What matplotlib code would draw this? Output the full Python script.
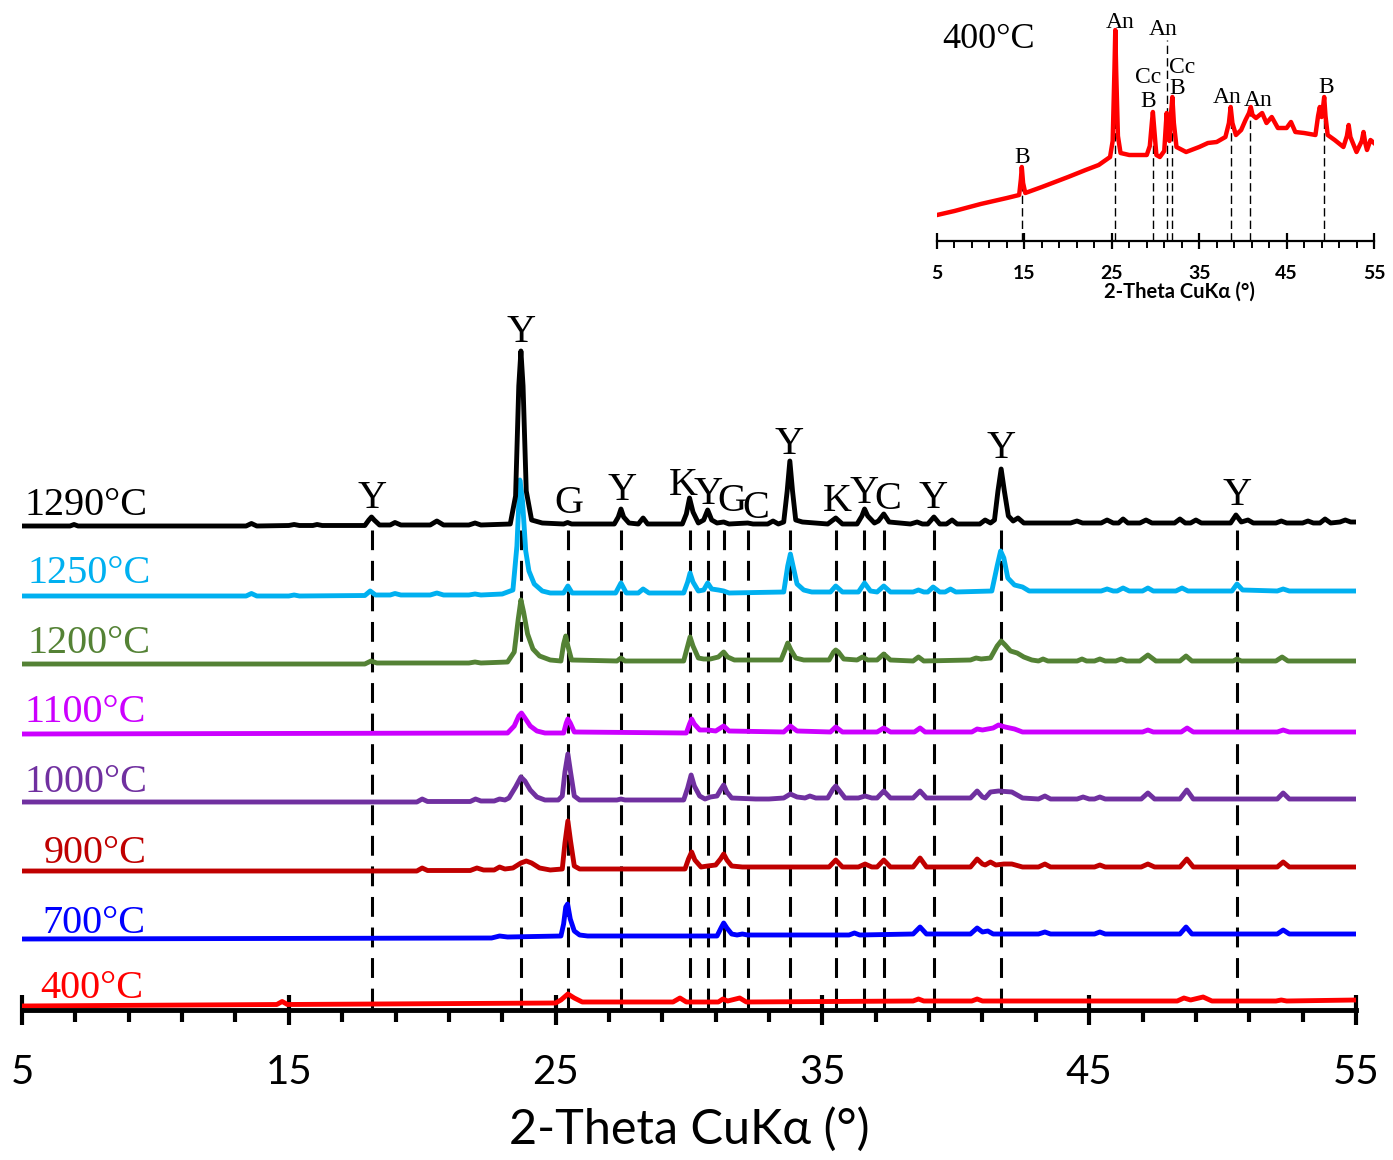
import matplotlib.pyplot as plt

# patterns: (2-theta, intensity above the trace's own baseline)
pts_1290 = [(5, 0), (6.8, 0), (6.95, 1.5), (7.1, 0), (13.4, 0), (13.6, 2.5), (13.8, 0),
            (15.0, 0.5), (15.2, 1.5), (15.4, 0.5), (15.9, 0.5), (16.06, 1.5), (16.25, 0.5),
            (17.85, 0.5), (18.0, 6), (18.1, 9), (18.2, 6), (18.4, 1), (18.8, 1), (18.98, 3.5), (19.2, 1),
            (20.3, 1), (20.55, 5), (20.8, 1), (21.75, 1), (21.98, 3), (22.2, 1),
            (23.3, 2), (23.5, 30), (23.62, 140), (23.7, 175), (23.78, 140), (23.9, 35), (24.1, 6), (24.5, 3),
            (25.3, 2), (25.45, 3.5), (25.6, 2), (27.2, 2), (27.35, 9), (27.45, 17), (27.55, 9), (27.75, 3),
            (28.1, 2), (28.28, 8), (28.45, 2), (29.75, 2), (29.9, 12), (30.02, 28), (30.15, 14), (30.35, 3),
            (30.55, 6), (30.7, 16), (30.85, 6), (31.05, 3), (31.3, 4), (31.5, 2), (32.2, 3), (32.4, 2),
            (32.95, 2), (33.15, 5), (33.35, 2), (33.55, 4), (33.68, 35), (33.78, 65), (33.88, 35), (34.0, 6),
            (34.25, 4), (35.2, 2), (35.5, 8), (35.75, 2), (36.3, 2), (36.48, 10), (36.58, 17), (36.7, 10),
            (36.95, 3), (37.1, 5), (37.3, 12), (37.5, 4), (38.3, 2), (38.55, 4), (38.75, 2),
            (38.95, 2), (39.18, 9), (39.4, 2), (39.65, 2), (39.86, 6), (40.05, 2), (40.9, 2), (41.1, 6), (41.3, 3),
            (41.45, 6), (41.58, 35), (41.7, 57), (41.82, 35), (41.97, 10), (42.15, 5), (42.33, 8), (42.55, 3),
            (44.3, 3), (44.54, 5), (44.75, 3), (45.45, 3), (45.67, 6), (45.9, 3), (46.1, 3), (46.27, 7), (46.45, 3),
            (46.9, 3), (47.13, 6), (47.35, 3), (48.2, 3), (48.4, 7), (48.6, 3), (48.8, 3), (49.0, 6), (49.2, 3),
            (50.3, 3), (50.5, 11), (50.7, 4), (50.95, 6), (51.15, 3), (52.0, 3), (52.2, 5), (52.4, 3),
            (53.0, 3), (53.2, 5), (53.4, 3), (53.65, 3), (53.84, 7), (54.05, 3), (54.4, 4), (54.6, 6), (54.8, 4), (55, 4)]

pts_1250 = [(5, 0), (13.4, 0), (13.6, 2.5), (13.8, 0), (15.0, 0), (15.2, 1), (15.4, 0),
            (17.85, 0.5), (18.05, 5), (18.25, 1), (18.8, 1), (18.98, 2.5), (19.2, 1),
            (20.3, 1), (20.55, 3), (20.8, 1), (21.75, 1), (21.98, 2), (22.2, 1),
            (23.0, 2), (23.4, 6), (23.55, 50), (23.66, 116), (23.76, 95), (23.88, 45), (24.0, 25), (24.2, 12),
            (24.5, 5), (24.8, 3), (25.3, 3), (25.46, 10), (25.62, 3), (27.25, 3), (27.45, 13), (27.65, 3),
            (28.1, 3), (28.28, 7), (28.5, 3), (29.8, 3), (29.95, 14), (30.04, 23), (30.15, 14), (30.35, 5),
            (30.55, 6), (30.7, 13), (30.85, 7), (31.1, 6), (31.3, 5), (31.5, 3),
            (33.55, 4), (33.7, 30), (33.8, 42), (33.9, 30), (34.05, 12), (34.3, 6), (34.6, 4),
            (35.3, 4), (35.5, 10), (35.75, 4), (36.35, 4), (36.58, 13), (36.8, 5), (37.05, 4), (37.3, 10), (37.55, 4),
            (38.4, 4), (38.6, 6), (38.8, 4), (38.95, 4), (39.15, 9), (39.4, 4), (39.6, 4), (39.8, 7), (40.0, 4),
            (41.35, 5), (41.55, 30), (41.68, 45), (41.8, 38), (41.95, 18), (42.2, 11), (42.5, 9), (42.75, 5),
            (45.45, 5), (45.67, 7), (45.9, 5), (46.05, 5), (46.27, 8), (46.5, 5), (47.0, 5), (47.2, 8), (47.4, 5),
            (48.25, 5), (48.48, 8), (48.7, 5), (50.35, 5), (50.54, 12), (50.75, 6), (52.05, 5), (52.27, 7),
            (52.5, 5), (55, 5)]

pts_1200 = [(5, 0), (17.85, 0), (18.08, 3), (18.3, 1), (21.75, 1), (21.98, 2), (22.2, 1),
            (23.2, 2), (23.45, 12), (23.6, 45), (23.7, 64), (23.8, 52), (23.95, 30), (24.15, 15), (24.4, 8),
            (24.8, 4), (25.2, 3), (25.3, 20), (25.38, 28), (25.46, 18), (25.6, 4), (27.3, 3), (27.45, 6), (27.6, 3),
            (29.8, 3), (29.95, 18), (30.04, 27), (30.15, 18), (30.35, 6), (30.55, 5), (30.8, 5), (31.1, 7),
            (31.3, 12), (31.45, 7), (31.7, 4), (33.45, 4), (33.6, 14), (33.7, 21), (33.82, 14), (34.0, 6), (34.3, 4),
            (35.25, 4), (35.42, 12), (35.5, 14), (35.6, 12), (35.8, 5), (36.3, 4), (36.5, 7), (36.7, 4),
            (37.05, 4), (37.3, 10), (37.55, 4), (38.4, 3), (38.6, 7), (38.8, 3), (40.55, 4), (40.76, 6), (40.95, 5),
            (41.3, 6), (41.55, 18), (41.7, 23), (41.85, 19), (42.05, 13), (42.3, 11), (42.55, 7), (42.85, 4),
            (43.1, 3), (43.27, 5), (43.45, 3), (44.55, 3), (44.73, 5), (44.9, 3), (45.2, 3), (45.4, 5), (45.6, 3),
            (46.0, 3), (46.2, 5), (46.4, 3), (46.9, 3), (47.2, 9), (47.5, 3), (48.4, 3), (48.63, 8), (48.85, 3),
            (50.4, 3), (50.54, 5), (50.7, 3), (52.0, 3), (52.23, 7), (52.45, 3), (55, 3)]

pts_1100 = [(5, 0), (23.2, 1), (23.45, 8), (23.62, 18), (23.72, 21), (23.85, 16), (24.05, 8), (24.3, 3),
            (24.6, 1), (25.3, 1), (25.4, 11), (25.46, 15), (25.55, 11), (25.7, 2), (29.9, 1), (30.02, 10),
            (30.1, 15), (30.2, 10), (30.4, 4), (30.7, 4), (31.0, 3), (31.3, 8), (31.5, 3),
            (33.55, 2), (33.8, 8), (34.05, 3), (35.3, 2), (35.5, 7), (35.75, 2), (37.05, 2), (37.3, 6), (37.55, 2),
            (38.45, 2), (38.66, 6), (38.85, 2), (40.6, 2), (40.8, 5), (41.0, 4), (41.4, 6), (41.6, 9), (41.85, 7),
            (42.2, 5), (42.5, 2), (47.0, 2), (47.2, 4), (47.4, 2), (48.45, 2), (48.67, 6), (48.9, 2),
            (52.05, 2), (52.27, 4), (52.5, 2), (55, 2)]

pts_1000 = [(5, 0), (19.8, 0), (20.0, 3), (20.2, 0.5), (21.8, 0.5), (22.0, 3), (22.2, 1), (22.7, 1), (22.9, 3),
            (23.1, 2), (23.25, 4), (23.5, 15), (23.7, 25), (23.85, 21), (24.05, 12), (24.3, 5), (24.6, 2),
            (25.1, 2), (25.25, 6), (25.35, 30), (25.46, 48), (25.56, 30), (25.7, 6), (25.9, 2),
            (27.3, 2), (27.45, 3), (27.6, 2), (29.8, 2), (29.95, 14), (30.08, 27), (30.2, 16), (30.4, 6),
            (30.6, 3), (30.8, 5), (31.05, 6), (31.18, 12), (31.3, 17), (31.42, 10), (31.6, 4), (32.5, 3), (33.0, 3),
            (33.55, 4), (33.8, 8), (34.05, 5), (34.35, 4), (34.53, 6), (34.75, 4), (35.2, 4), (35.4, 13),
            (35.5, 16), (35.62, 12), (35.85, 4), (36.35, 4), (36.6, 6), (36.85, 4), (37.05, 4), (37.3, 11),
            (37.55, 4), (38.4, 4), (38.66, 11), (38.9, 4), (40.55, 4), (40.8, 11), (41.0, 5), (41.1, 4),
            (41.3, 10), (41.6, 11), (42.1, 10), (42.5, 4), (43.1, 3), (43.34, 6), (43.55, 3), (44.55, 3),
            (44.77, 5), (45.0, 3), (45.2, 3), (45.4, 5), (45.6, 3), (46.95, 3), (47.2, 9), (47.45, 3),
            (48.4, 3), (48.66, 12), (48.9, 3), (52.05, 3), (52.27, 9), (52.5, 3), (55, 3)]

pts_900 = [(5, 0), (19.8, 0), (20.0, 3), (20.2, 0.5), (21.8, 0.5), (22.05, 3), (22.3, 1), (22.7, 1), (22.9, 4),
           (23.1, 2), (23.4, 3), (23.7, 8), (23.9, 10), (24.1, 8), (24.4, 3), (24.8, 1), (25.25, 2), (25.35, 28),
           (25.46, 50), (25.56, 30), (25.7, 5), (25.9, 2), (29.85, 2), (29.98, 12), (30.1, 19), (30.22, 11),
           (30.45, 4), (30.7, 5), (31.0, 6), (31.18, 12), (31.3, 17), (31.42, 11), (31.6, 5), (32.0, 4),
           (33.3, 4), (34.0, 4), (35.25, 4), (35.5, 11), (35.75, 4), (36.35, 4), (36.6, 7), (36.85, 4),
           (37.05, 4), (37.3, 11), (37.55, 4), (38.4, 4), (38.66, 13), (38.9, 4), (40.55, 4), (40.8, 12),
           (41.0, 7), (41.1, 6), (41.3, 9), (41.5, 6), (41.8, 7), (42.1, 7), (42.5, 4), (43.1, 4), (43.34, 7),
           (43.55, 4), (45.2, 4), (45.4, 6), (45.6, 4), (46.95, 4), (47.2, 7), (47.45, 4), (48.4, 4), (48.66, 12),
           (48.9, 4), (52.05, 4), (52.27, 9), (52.5, 4), (55, 4)]

pts_700 = [(5, 0), (22.6, 1), (22.9, 3), (23.2, 2), (25.2, 3), (25.3, 15), (25.38, 32), (25.45, 35),
           (25.55, 20), (25.7, 8), (25.9, 4), (26.2, 3), (31.05, 3), (31.2, 11), (31.3, 16), (31.42, 11),
           (31.6, 5), (31.8, 4), (32.0, 5), (32.2, 4), (36.0, 4), (36.2, 6), (36.4, 4), (38.4, 5), (38.66, 12),
           (38.9, 5), (40.55, 5), (40.8, 11), (41.0, 7), (41.2, 8), (41.4, 5), (43.1, 5), (43.34, 7), (43.55, 5),
           (45.2, 5), (45.4, 7), (45.6, 5), (48.4, 5), (48.63, 12), (48.85, 5), (52.05, 5), (52.27, 9),
           (52.5, 5), (55, 5)]

pts_400 = [(5, 0), (14.55, 1.5), (14.75, 4.5), (14.95, 1.5), (25.0, 3), (25.2, 6), (25.46, 12), (25.7, 8),
           (26.0, 4), (29.4, 4), (29.66, 8), (29.9, 4), (31.1, 4), (31.27, 7), (31.45, 5), (31.9, 8), (32.15, 4),
           (38.4, 5), (38.6, 7), (38.8, 5), (40.6, 5), (40.8, 7), (41.0, 5), (48.3, 5), (48.55, 8), (48.8, 6),
           (49.27, 9), (49.6, 5), (52.0, 5), (52.2, 6), (52.4, 5), (55, 6)]

temps = ['400°C', '700°C', '900°C', '1000°C', '1100°C', '1200°C', '1250°C', '1290°C']
patterns = [pts_400, pts_700, pts_900, pts_1000, pts_1100, pts_1200, pts_1250, pts_1290]
colors = ['#FF0000', '#0000FF', '#C00000', '#7030A0', '#CC00FF', '#548235', '#00B0F0', '#000000']
offsets = [4, 71, 139, 208, 276, 346, 414, 484]
# where each temperature label sits (2-theta of left edge, height of baseline)
temp_x = [5.7, 5.75, 5.8, 5.1, 5.1, 5.2, 5.2, 5.1]
temp_y = [12, 77, 147, 218, 288, 357, 427, 495]

# phase markers: reference line position, letter, letter centre, letter baseline height
phase_pos = [18.1, 23.7, 25.46, 27.45, 30.04, 30.71, 31.31, 32.21, 33.79, 35.51, 36.56, 37.31, 39.18, 41.69, 50.54]
phase_lab = ['Y', 'Y', 'G', 'Y', 'K', 'Y', 'G', 'C', 'Y', 'K', 'Y', 'C', 'Y', 'Y', 'Y']
phase_lab_x = [18.12, 23.72, 25.5, 27.49, 29.78, 30.71, 31.62, 32.5, 33.75, 35.55, 36.56, 37.45, 39.15, 41.69, 50.54]
phase_y = [502, 668, 497, 510, 515, 506, 499, 492, 556, 499, 507, 501, 502, 552, 505]

# inset: 400°C pattern on its own scale
ins_x = [5, 7, 10, 13, 14.4, 14.6, 14.7, 14.85, 15.1, 17, 20, 22, 23.5, 24.8, 25.1, 25.3, 25.4, 25.5, 25.7,
         26.0, 27, 29.0, 29.35, 29.6, 29.7, 29.8, 30.1, 30.5, 31.0, 31.2, 31.28, 31.4, 31.6, 31.8, 31.93, 32.1,
         32.4, 33.5, 35, 36, 37, 38, 38.4, 38.6, 38.8, 39.2, 39.8, 40.3, 40.7, 40.9, 41.1, 41.5, 42.2, 42.7,
         43.3, 44, 45, 45.5, 46, 47, 48.3, 48.6, 48.8, 49.0, 49.15, 49.3, 49.45, 49.7, 50.5, 51.5, 51.9, 52.1,
         52.3, 53, 53.6, 53.8, 54.0, 54.2, 54.6, 55]
ins_y = [26, 30, 37, 43, 46, 62, 74, 58, 48, 54, 64, 71, 76, 84, 100, 170, 211, 170, 105,
         88, 86, 86, 95, 120, 129, 118, 86, 84, 90, 118, 128, 112, 100, 130, 144, 118,
         94, 89, 94, 98, 99, 104, 118, 134, 118, 106, 111, 121, 128, 134, 126, 123, 128, 118,
         124, 113, 113, 119, 109, 108, 106, 125, 134, 124, 132, 144, 125, 106, 101, 94, 105, 116,
         104, 89, 100, 109, 98, 91, 101, 98]
ins_lines = [14.7, 25.37, 29.68, 31.28, 31.93, 38.6, 40.85, 49.3]
ins_tops = [74, 211, 129, 201, 144, 134, 134, 144]
ins_lab = ['B', 'An', 'Cc', 'B', 'An', 'Cc', 'B', 'An', 'An', 'B']
ins_lab_x = [14.7, 25.9, 29.14, 29.14, 30.86, 33.03, 32.46, 38.18, 41.73, 49.5]
ins_lab_y = [78, 213, 158, 134, 206, 168, 147, 138, 135, 148]

serif = 'Liberation Serif'
sans = ['Lato', 'DejaVu Sans']

fig = plt.figure(figsize=(13.93, 11.6), dpi=100)
ax = fig.add_axes([22 / 1393, 150 / 1160, 1334 / 1393, 710 / 1160])

for x in phase_pos:
    ax.plot([x, x], [2, 480], color='black', lw=2.2, ls=(0, (6.5, 3.5)), zorder=1)

for i, pts in enumerate(patterns):
    xs = [p[0] for p in pts]
    ys = [p[1] + offsets[i] for p in pts]
    ax.plot(xs, ys, color=colors[i], lw=3.5, zorder=2 + i, solid_joinstyle='round')
    ax.text(temp_x[i], temp_y[i], temps[i], color=colors[i], fontsize=29, family=serif,
            ha='left', va='baseline', zorder=20)

for x, lab, y in zip(phase_lab_x, phase_lab, phase_y):
    ax.text(x, y, lab, fontsize=29, family=serif, ha='center', va='baseline', zorder=20)

ax.set_xlim(5, 55)
ax.set_ylim(0, 710)
for s in ['top', 'left', 'right']:
    ax.spines[s].set_visible(False)
ax.spines['bottom'].set_linewidth(3.5)
ax.set_yticks([])
ax.set_xticks(range(5, 56, 10))
ax.set_xticks([m for m in range(7, 55, 2) if (m - 5) % 10 != 0], minor=True)
ax.tick_params(axis='x', which='major', direction='inout', length=21, width=3, labelsize=29, pad=21)
ax.tick_params(axis='x', which='minor', direction='out', length=8.5, width=3)
for t in ax.get_xticklabels():
    t.set_family(sans)
ax.set_xlabel('2-Theta CuKα (°)', fontsize=35, family=sans, labelpad=12)

# inset
ins = fig.add_axes([937 / 1393, 919 / 1160, 437 / 1393, 241 / 1160])
for x, top in zip(ins_lines, ins_tops):
    ins.plot([x, x], [0, top], color='black', lw=1.0, ls=(0, (6, 3)), zorder=1)
ins.plot(ins_x, ins_y, color='#FF0000', lw=3.2, zorder=2)
for lab, x, y in zip(ins_lab, ins_lab_x, ins_lab_y):
    ins.text(x, y, lab, fontsize=17, family=serif, ha='center', va='baseline', zorder=5)
ins.text(5.6, 193, '400°C', fontsize=26, family=serif, ha='left', va='baseline')
ins.set_xlim(5, 55)
ins.set_ylim(0, 241)
for s in ['top', 'left', 'right']:
    ins.spines[s].set_visible(False)
ins.spines['bottom'].set_linewidth(1.6)
ins.set_yticks([])
ins.set_xticks(range(5, 56, 10))
ins.set_xticks([m for m in range(7, 55, 2) if (m - 5) % 10 != 0], minor=True)
ins.tick_params(axis='x', which='major', direction='inout', length=11, width=1.6, labelsize=14, pad=12)
ins.tick_params(axis='x', which='minor', direction='out', length=5, width=1.4)
for t in ins.get_xticklabels():
    t.set_family(sans)
    t.set_fontweight('bold')
ins.set_xlabel('2-Theta CuKα (°)', fontsize=14.5, family=sans, fontweight='bold')
ins.xaxis.set_label_coords(0.555, -0.17)
ins.patch.set_alpha(0)

plt.savefig('out.png', dpi=100)
